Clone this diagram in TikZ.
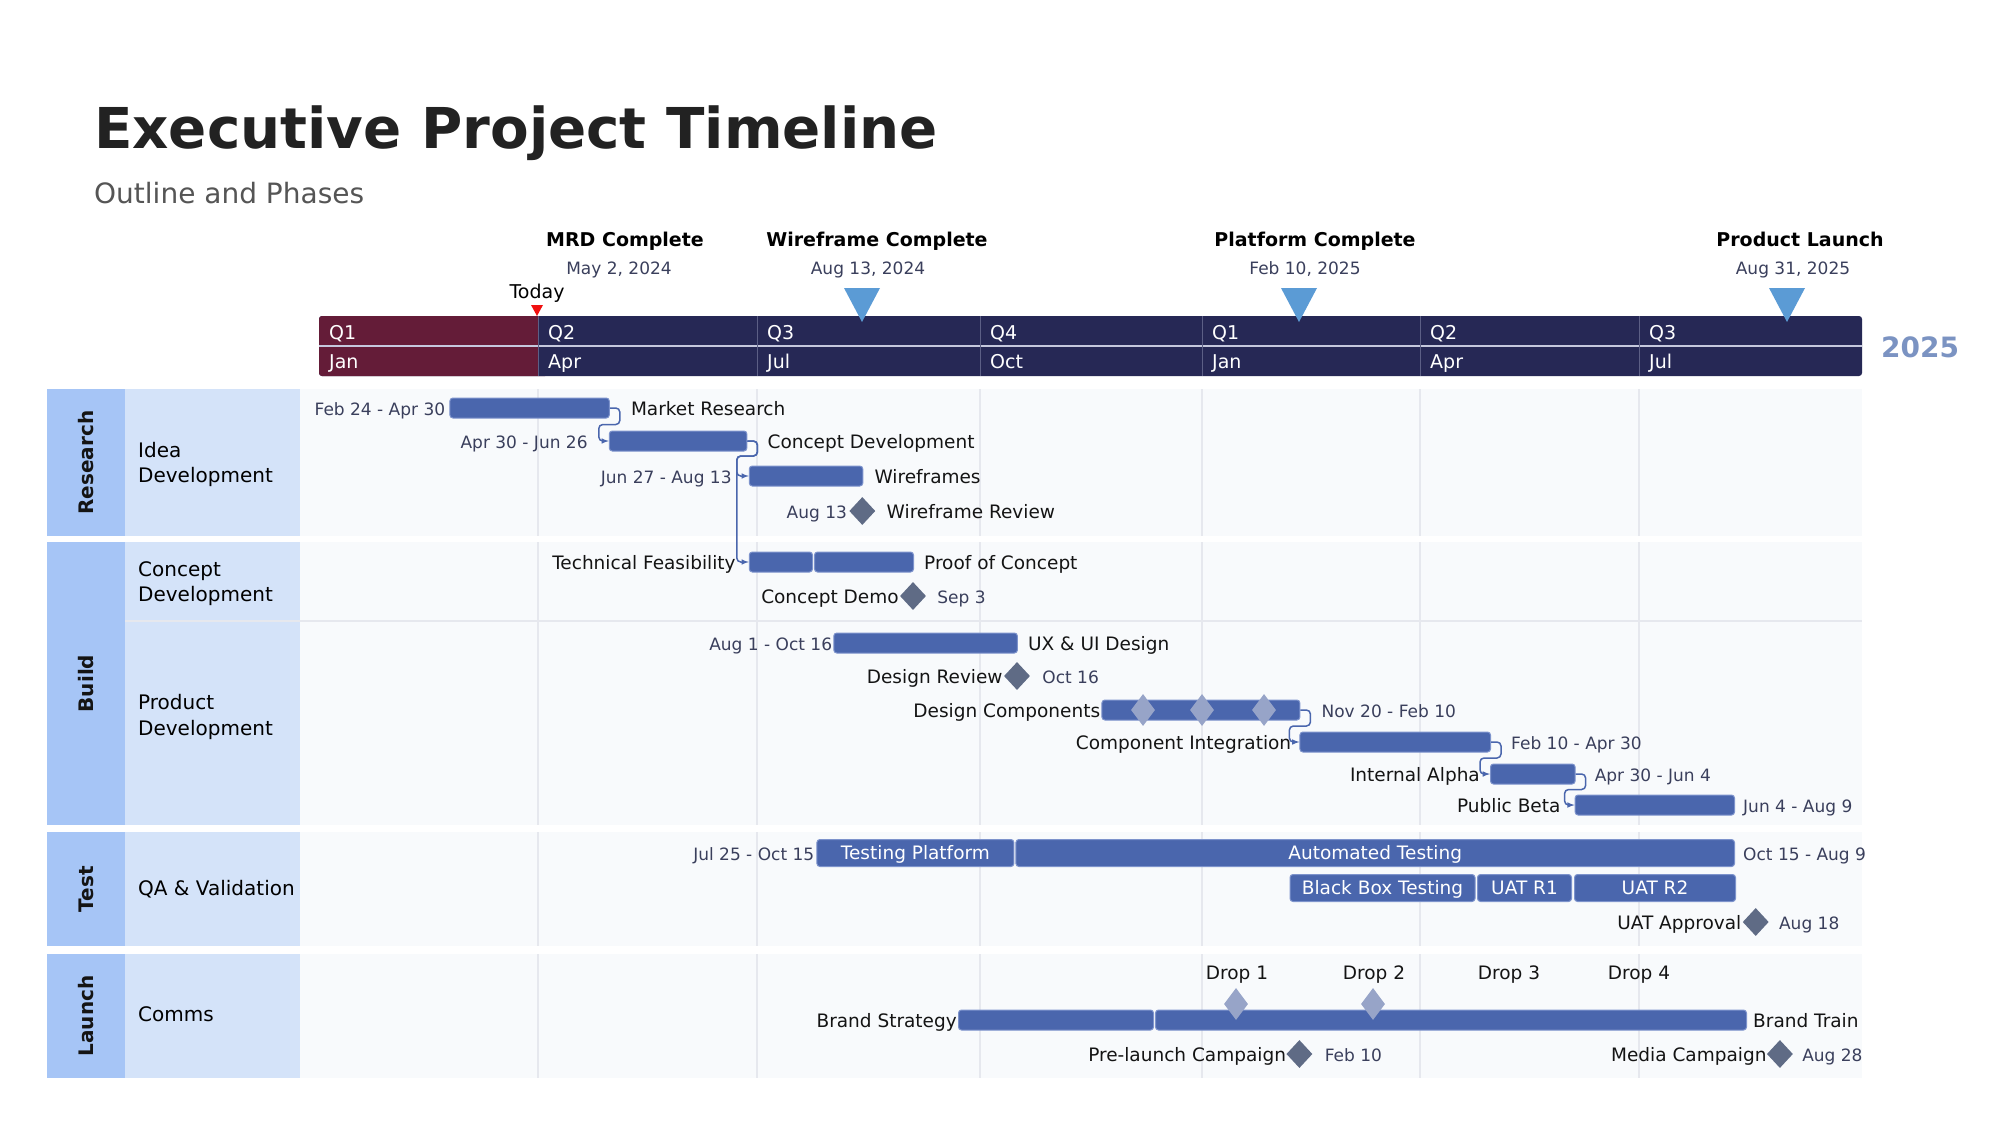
\documentclass[tikz,border=0pt]{standalone}
\usepackage{fontspec}
\setmainfont{DejaVu Sans}
\usetikzlibrary{arrows,positioning,shapes.geometric}

\definecolor{barblue}{HTML}{4A66AD}
\definecolor{barline}{HTML}{7D93CC}
\definecolor{msgray}{HTML}{5F6B85}
\definecolor{mslight}{HTML}{97A4C8}
\definecolor{chartbg}{HTML}{F8FAFC}
\definecolor{groupblue}{HTML}{A6C5F6}
\definecolor{laneblue}{HTML}{D4E3F9}
\definecolor{gridgray}{HTML}{E6E8EE}
\definecolor{hdrnavy}{HTML}{262855}
\definecolor{hdrred}{HTML}{641C38}
\definecolor{hdrsep}{HTML}{C5C8DD}
\definecolor{qsep}{HTML}{5C5F85}
\definecolor{yearblue}{HTML}{7B93C2}
\definecolor{mstri}{HTML}{5B9BD5}
\definecolor{todayred}{HTML}{F01010}
\definecolor{datetxt}{HTML}{3A3F5C}
\definecolor{titletxt}{HTML}{222222}
\definecolor{subtxt}{HTML}{555555}

\tikzset{
  bar/.style={fill=barblue, draw=barline, line width=1pt, rounded corners=3pt, inner sep=0pt, minimum height=20pt, anchor=west},
  tbar/.style={bar, minimum height=27pt, text=white, font=\fontsize{18.5}{22}\selectfont, text height=14.5pt, text depth=1.5pt},
  task/.style={inner sep=0pt, text=black!92, font=\fontsize{18.5}{22}\selectfont, text height=15.5pt, text depth=1pt},
  dat/.style={inner sep=0pt, text=datetxt, font=\fontsize{17}{20}\selectfont, text height=14pt, text depth=0pt},
  ms/.style={diamond, fill=msgray, inner sep=0pt, minimum width=26pt, minimum height=28pt},
  msl/.style={diamond, fill=mslight, inner sep=0pt, minimum width=24pt, minimum height=32pt},
  dep/.style={draw=barblue, line width=1.5pt, rounded corners=4pt, -latex},
  lane/.style={inner sep=0pt, anchor=west, align=left, font=\fontsize{20}{25.5}\selectfont},
  group/.style={inner sep=0pt, rotate=90, text=black!92, font=\bfseries\fontsize{20}{24}\selectfont},
  hdr/.style={inner sep=0pt, anchor=west, text=white, font=\fontsize{19}{22}\selectfont, text height=14pt, text depth=0pt},
  msname/.style={inner sep=0pt, anchor=base, font=\bfseries\fontsize{19}{22}\selectfont},
  msdate/.style={inner sep=0pt, anchor=base, text=datetxt, font=\fontsize{17}{20}\selectfont}
}

\begin{document}
\begin{tikzpicture}[x=1pt, y=-1pt]
\useasboundingbox (0,0) rectangle (2000,1125);
\fill[white] (0,0) rectangle (2000,1125);

% title
\node[anchor=base west, inner sep=0pt, text=titletxt, font=\bfseries\fontsize{56.3}{64}\selectfont] (title) at (94,148.5) {Executive Project Timeline};
\node[anchor=base west, inner sep=0pt, text=subtxt, font=\fontsize{28}{32}\selectfont] (subtitle) at (94,203.5) {Outline and Phases};

% swimlanes
\foreach \t/\b in {389/536,542/825,832/946,954/1078} {
  \fill[groupblue] (47,\t) rectangle (125,\b);
  \fill[laneblue] (125,\t) rectangle (300,\b);
  \fill[chartbg] (300,\t) rectangle (1862,\b);
  \foreach \x in {538,757,980,1202,1420,1639} \draw[gridgray, line width=1.2pt] (\x,\t) -- (\x,\b);
}
\draw[gridgray, line width=1.5pt] (125,621) -- (1862,621);

\node[group] (gRes) at (86,462.5) {Research};
\node[group] (gBld) at (86,683.5) {Build};
\node[group] (gTst) at (86,889) {Test};
\node[group] (gLch) at (86,1016) {Launch};

\node[lane] (lIdea) at (138,464.5) {Idea\\Development};
\node[lane] (lConc) at (138,583.5) {Concept\\Development};
\node[lane] (lProd) at (138,717) {Product\\Development};
\node[lane] (lQA) at (138,889) {QA \& Validation};
\node[lane] (lComm) at (138,1014) {Comms};

% time scale
\fill[hdrnavy, rounded corners=3pt] (319,316) rectangle (1862,376);
\fill[hdrred, rounded corners=3pt] (319,316) rectangle (548,376);
\fill[hdrnavy] (538,316) rectangle (550,376);
\draw[hdrsep, line width=2pt] (319,346) -- (1862,346);
\foreach \x in {538,757,980,1202,1420,1639} \draw[qsep, line width=1pt] (\x,316) -- (\x,376);
\foreach \x/\q/\m [count=\i] in {319/Q1/Jan,538/Q2/Apr,757/Q3/Jul,980/Q4/Oct,1202/Q1/Jan,1420/Q2/Apr,1639/Q3/Jul} {
  \node[hdr] (q\i) at (\x+10,332) {\q};
  \node[hdr] (m\i) at (\x+10,361) {\m};
}
\node[anchor=west, inner sep=0pt, text=yearblue, font=\bfseries\fontsize{28}{32}\selectfont] (year) at (1881,347) {2025};

% key milestones
\node[msname] (mrdN) at (625,246) {MRD Complete};
\node[msdate] (mrdD) at (619,274) {May 2, 2024};
\node[msname] (wfcN) at (877,246) {Wireframe Complete};
\node[msdate] (wfcD) at (868,274) {Aug 13, 2024};
\node[msname] (plcN) at (1315,246) {Platform Complete};
\node[msdate] (plcD) at (1305,274) {Feb 10, 2025};
\node[msname] (lnchN) at (1800,246) {Product Launch};
\node[msdate] (lnchD) at (1793,274) {Aug 31, 2025};
\fill[mstri] (844,288) -- (880,288) -- (862,322) -- cycle;
\fill[mstri] (1281,288) -- (1317,288) -- (1299,322) -- cycle;
\fill[mstri] (1769,288) -- (1805,288) -- (1787,322) -- cycle;

% today
\node[anchor=base, inner sep=0pt, font=\fontsize{19}{22}\selectfont] (today) at (537,298) {Today};
\fill[todayred] (531,305) -- (543,305) -- (537,316) -- cycle;

% research
\node[bar, minimum width=159.4pt] (mr) at (449.4,408) {};
\node[dat, left=4pt of mr] (mrD) {Feb 24 - Apr 30};
\node[task, right=21pt of mr] (mrT) {Market Research};
\node[bar, minimum width=137.6pt] (cd) at (608.8,441) {};
\node[dat, left=21pt of cd] (cdD) {Apr 30 - Jun 26};
\node[task, right=20pt of cd] (cdT) {Concept Development};
\node[bar, minimum width=113.5pt] (wf) at (748.8,476) {};
\node[dat, left=17pt of wf] (wfD) {Jun 27 - Aug 13};
\node[task, right=11pt of wf] (wfT) {Wireframes};
\node[ms] (wfr) at (862.3,511) {};
\node[dat, left=2pt of wfr] (wfrD) {Aug 13};
\node[task, right=11pt of wfr] (wfrT) {Wireframe Review};

% build: concept
\node[bar, minimum width=63.2pt] (tf) at (748.8,562) {};
\node[bar, minimum width=99pt] (poc) at (814,562) {};
\node[task, left=13pt of tf] (tfT) {Technical Feasibility};
\node[task, right=10pt of poc] (pocT) {Proof of Concept};
\node[ms] (cdemo) at (913,596) {};
\node[task, left=1pt of cdemo] (cdemoT) {Concept Demo};
\node[dat, right=11pt of cdemo] (cdemoD) {Sep 3};

% build: product
\node[bar, minimum width=183.6pt] (ux) at (833.3,643) {};
\node[dat, left=1pt of ux] (uxD) {Aug 1 - Oct 16};
\node[task, right=10pt of ux] (uxT) {UX \& UI Design};
\node[ms] (drev) at (1017,676) {};
\node[task, left=1pt of drev] (drevT) {Design Review};
\node[dat, right=12pt of drev] (drevD) {Oct 16};
\node[bar, minimum width=198pt] (dc) at (1101.4,710) {};
\node[task, left=1pt of dc] (dcT) {Design Components};
\node[dat, right=21pt of dc] (dcD) {Nov 20 - Feb 10};
\foreach \x [count=\i] in {1143,1202,1264} \node[msl] (dcm\i) at (\x,710) {};
\node[bar, minimum width=190.6pt] (ci) at (1299.4,742) {};
\node[task, left=8pt of ci] (ciT) {Component Integration};
\node[dat, right=20pt of ci] (ciD) {Feb 10 - Apr 30};
\node[bar, minimum width=84.6pt] (ia) at (1490,774) {};
\node[task, left=10pt of ia] (iaT) {Internal Alpha};
\node[dat, right=19pt of ia] (iaD) {Apr 30 - Jun 4};
\node[bar, minimum width=159.4pt] (pb) at (1574.6,805) {};
\node[task, left=14pt of pb] (pbT) {Public Beta};
\node[dat, right=8pt of pb] (pbD) {Jun 4 - Aug 9};

% test
\node[tbar, minimum width=197pt] (tp) at (816.4,853) {Testing Platform};
\node[tbar, minimum width=718.6pt] (auto) at (1015.4,853) {Automated Testing};
\node[dat, left=2pt of tp] (tpD) {Jul 25 - Oct 15};
\node[dat, right=8pt of auto] (autoD) {Oct 15 - Aug 9};
\node[tbar, minimum width=185pt] (bbt) at (1289.5,888) {Black Box Testing};
\node[tbar, minimum width=94pt] (uat1) at (1477,888) {UAT R1};
\node[tbar, minimum width=161pt] (uat2) at (1574,888) {UAT R2};
\node[ms] (uatap) at (1755.7,922) {};
\node[task, left=1pt of uatap] (uatapT) {UAT Approval};
\node[dat, right=10pt of uatap] (uatapD) {Aug 18};

% launch
\foreach \x/\d [count=\i] in {1237/1,1374/2,1509/3,1639/4} \node[task] (drop\i) at (\x,972) {Drop \d};
\node[bar, minimum width=195pt] (bs) at (958,1020) {};
\node[bar, minimum width=591pt] (bt) at (1155,1020) {};
\node[msl] (drm1) at (1236,1004) {};
\node[msl] (drm2) at (1373,1004) {};
\node[task, left=1pt of bs] (bsT) {Brand Strategy};
\node[task, right=6pt of bt] (btT) {Brand Train};
\node[ms] (plc) at (1299.4,1054) {};
\node[task, left=0pt of plc] (plcT) {Pre-launch Campaign};
\node[dat, right=12pt of plc] (plcD) {Feb 10};
\node[ms] (mc) at (1779.9,1054) {};
\node[task, left=0pt of mc] (mcT) {Media Campaign};
\node[dat, right=9pt of mc] (mcD) {Aug 28};

% dependencies
\draw[dep] (mr.east) -- ++(10,0) -- ++(0,16.5) -| ([xshift=-10pt]cd.west) -- (cd.west);
\draw[dep] (cd.east) -- ++(10,0) -- ++(0,15) -| ([xshift=-12pt]wf.west) -- (wf.west);
\draw[dep] (cd.east) -- ++(10,0) -- ++(0,15) -| ([xshift=-12pt]tf.west) -- (tf.west);
\draw[dep] (dc.east) -- ++(10,0) -- ++(0,16) -| ([xshift=-10pt]ci.west) -- (ci.west);
\draw[dep] (ci.east) -- ++(10,0) -- ++(0,16) -| ([xshift=-10pt]ia.west) -- (ia.west);
\draw[dep] (ia.east) -- ++(10,0) -- ++(0,15.5) -| ([xshift=-10pt]pb.west) -- (pb.west);
\end{tikzpicture}
\end{document}
